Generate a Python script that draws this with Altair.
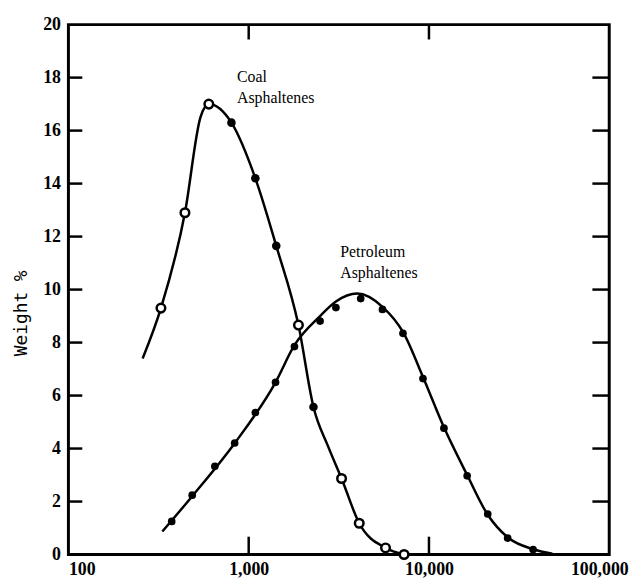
import altair as alt
import pandas as pd

# Coal asphaltenes: measured points
coal_x = [326, 443, 601, 802, 1089, 1422, 1888, 2287, 3275, 4104, 5743, 7278]
coal_y = [9.3, 12.9, 17.0, 16.3, 14.2, 11.65, 8.66, 5.57, 2.87, 1.18, 0.25, 0.0]
coal_fill = [False, False, False, True, True, True, False, True, False, False, False, False]

# Coal fitted curve
coal_curve_x = [258, 326, 443, 540, 601, 802, 1089, 1422, 1888, 2287, 2750, 3275, 4104, 5743, 7278]
coal_curve_y = [7.4, 9.3, 12.9, 16.5, 17.0, 16.3, 14.2, 11.65, 8.66, 5.57, 4.1, 2.87, 1.18, 0.25, 0.0]

# Petroleum asphaltenes: measured points
pet_x = [374, 486, 649, 836, 1089, 1409, 1794, 2489, 3047, 4181, 5522, 7175, 9265, 12110, 16290, 21190, 27310, 37820]
pet_y = [1.25, 2.24, 3.33, 4.21, 5.36, 6.5, 7.85, 8.81, 9.32, 9.66, 9.25, 8.35, 6.64, 4.77, 2.97, 1.53, 0.62, 0.19]

# Petroleum fitted curve
pet_curve_x = [332, 486, 836, 1409, 1794, 2489, 3047, 4000, 5522, 7175, 9265, 12110, 16290, 21190, 27310, 37820, 48400]
pet_curve_y = [0.87, 2.2, 4.2, 6.5, 7.9, 9.0, 9.55, 9.85, 9.35, 8.4, 6.7, 4.8, 3.0, 1.5, 0.65, 0.2, 0.03]

# Labels
label_text = ["Coal", "Asphaltenes", "Petroleum", "Asphaltenes"]
label_x = [861, 861, 3221, 3221]
label_y = [17.82, 17.03, 11.24, 10.42]

x_ticks = [100, 1000, 10000, 100000]
y_ticks = [0, 2, 4, 6, 8, 10, 12, 14, 16, 18, 20]
inner_y_ticks = [2, 4, 6, 8, 10, 12, 14, 16, 18]
inner_x_ticks = [1000, 10000]

W, H = 546, 535
SERIF = "Liberation Serif"

xs = alt.Scale(type="log", domain=[100, 100000], nice=False)
ys = alt.Scale(domain=[0, 20], nice=False)

coal_pts = pd.DataFrame({"x": coal_x, "y": coal_y, "filled": coal_fill})
coal_line = pd.DataFrame({"x": coal_curve_x, "y": coal_curve_y, "o": range(len(coal_curve_x))})
pet_pts = pd.DataFrame({"x": pet_x, "y": pet_y})
pet_line = pd.DataFrame({"x": pet_curve_x, "y": pet_curve_y, "o": range(len(pet_curve_x))})
labels = pd.DataFrame({"t": label_text, "x": label_x, "y": label_y})
yt = pd.DataFrame({"v": inner_y_ticks})
xt = pd.DataFrame({"v": inner_x_ticks})

base_x = alt.X("x:Q", scale=xs, axis=alt.Axis(
    values=x_ticks, format=",d", title=None, grid=False, ticks=False, domain=False,
    labelFont=SERIF, labelFontSize=18, labelFontWeight="bold", labelColor="black",
    labelPadding=6, labelFlush=False,
    labelAlign={"condition": {"test": "datum.value <= 100", "value": "left"}, "value": "center"},
    labelOffset={"condition": {"test": "datum.value >= 100000", "value": -10}, "value": 0},
))
base_y = alt.Y("y:Q", scale=ys, axis=alt.Axis(
    values=y_ticks, title="Weight %", grid=False, ticks=False, domain=False,
    labelFont=SERIF, labelFontSize=18, labelFontWeight="bold", labelColor="black",
    labelPadding=8,
    titleFont="DejaVu Sans Mono", titleFontSize=18, titleFontWeight="normal", titleColor="black",
    titleX=-47, titleY=291, titleAngle=-90, titleAlign="center", titleBaseline="middle",
))

l_coal = alt.Chart(coal_line).mark_line(color="black", strokeWidth=2.5, interpolate="monotone").encode(
    x=base_x, y=base_y, order="o:Q")
l_pet = alt.Chart(pet_line).mark_line(color="black", strokeWidth=2.5, interpolate="monotone").encode(
    x=alt.X("x:Q", scale=xs), y=alt.Y("y:Q", scale=ys), order="o:Q")

p_coal_open = alt.Chart(coal_pts).transform_filter("!datum.filled").mark_point(
    shape="circle", filled=True, fill="white", stroke="black", strokeWidth=2.5, size=75, opacity=1).encode(
    x=alt.X("x:Q", scale=xs), y=alt.Y("y:Q", scale=ys))
p_coal_fill = alt.Chart(coal_pts).transform_filter("datum.filled").mark_point(
    shape="circle", filled=True, color="black", size=75, opacity=1).encode(
    x=alt.X("x:Q", scale=xs), y=alt.Y("y:Q", scale=ys))
p_pet = alt.Chart(pet_pts).mark_point(
    shape="circle", filled=True, color="black", size=60, opacity=1).encode(
    x=alt.X("x:Q", scale=xs), y=alt.Y("y:Q", scale=ys))

txt = alt.Chart(labels).mark_text(font=SERIF, fontSize=16, align="left", baseline="alphabetic",
                                   color="black").encode(
    x=alt.X("x:Q", scale=xs), y=alt.Y("y:Q", scale=ys), text="t:N")

tick_left = alt.Chart(yt).mark_rule(color="black", strokeWidth=2.5).encode(
    y=alt.Y("v:Q", scale=ys), x=alt.value(0), x2=alt.value(14))
tick_right = alt.Chart(yt).mark_rule(color="black", strokeWidth=2.5).encode(
    y=alt.Y("v:Q", scale=ys), x=alt.value(W - 17), x2=alt.value(W))
tick_bottom = alt.Chart(xt).mark_rule(color="black", strokeWidth=2.5).encode(
    x=alt.X("v:Q", scale=xs), y=alt.value(H - 18), y2=alt.value(H))
tick_top = alt.Chart(xt).mark_rule(color="black", strokeWidth=2.5).encode(
    x=alt.X("v:Q", scale=xs), y=alt.value(0), y2=alt.value(15))

chart = alt.layer(
    l_coal, l_pet, tick_left, tick_right, tick_bottom, tick_top,
    p_coal_open, p_coal_fill, p_pet, txt
).properties(
    width=W, height=H,
    autosize=alt.AutoSizeParams(type="none"),
    padding={"left": 61, "top": 14, "right": 24, "bottom": 30},
    background="white",
).configure_view(stroke="black", strokeWidth=3)

chart.save("out.html", embed_options={"renderer": "svg", "actions": False})
